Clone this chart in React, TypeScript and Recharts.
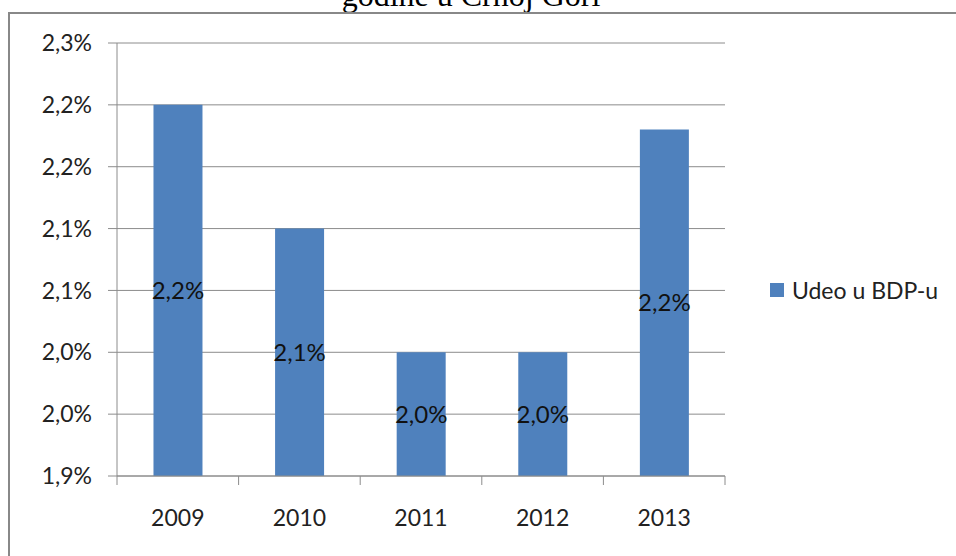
import React from "react";
import {
  BarChart,
  Bar,
  XAxis,
  YAxis,
  CartesianGrid,
  Legend,
  LabelList,
} from "recharts";

// 年ごとのGDP比（%）
const years = ["2009", "2010", "2011", "2012", "2013"];
const shareValues = [2.2, 2.1, 2.0, 2.0, 2.18];
const yTicks = [1.9, 1.95, 2.0, 2.05, 2.1, 2.15, 2.2, 2.25];
const yTickLabels = ["1,9%", "2,0%", "2,0%", "2,1%", "2,1%", "2,2%", "2,2%", "2,3%"];
const seriesName = "Udeo u BDP-u";
const titleText = "godine u Crnoj Gori";

const data = years.map((year, i) => ({ year, value: shareValues[i] }));

const FONT = "Lato, 'Open Sans', sans-serif";
const GRID = "#8c8c8c";
const BAR = "#4f81bd";
const X_TICK_SIZE = 9;
const X_TICK_MARGIN = 25;
const LEGEND_W = 200;

// カテゴリの境界に目盛り線を引くカスタムtick
const XTick = (props: any) => {
  const { x, y, payload, index, visibleTicksCount } = props;
  const half = payload?.offset ?? 0;
  const top = y - X_TICK_MARGIN - X_TICK_SIZE;
  const bottom = y - X_TICK_MARGIN;
  return (
    <g>
      <line x1={x - half} x2={x - half} y1={top} y2={bottom} stroke={GRID} />
      {index === visibleTicksCount - 1 && (
        <line x1={x + half} x2={x + half} y1={top} y2={bottom} stroke={GRID} />
      )}
      <text
        x={x}
        y={y}
        dy="0.71em"
        textAnchor="middle"
        fill="#222"
        fontSize={23}
        fontFamily={FONT}
      >
        {payload.value}
      </text>
    </g>
  );
};

const LegendContent = () => (
  <div style={{ display: "flex", alignItems: "center", fontFamily: FONT, fontSize: 23, color: "#222" }}>
    <span style={{ width: 14, height: 14, background: BAR, marginRight: 8, display: "inline-block" }} />
    {seriesName}
  </div>
);

export default function App() {
  return (
    <div
      style={{
        position: "fixed",
        left: 0,
        top: 0,
        width: 956,
        height: 556,
        overflow: "hidden",
        background: "#fff",
      }}
    >
      {/* 上で切れているタイトル */}
      <div
        style={{
          position: "absolute",
          left: 0,
          top: -21,
          width: 942,
          textAlign: "center",
          fontFamily: "'Liberation Serif', 'Times New Roman', serif",
          fontSize: 32,
          lineHeight: "32px",
          color: "#000",
        }}
      >
        {titleText}
      </div>

      {/* グラフ枠 */}
      <div
        style={{
          position: "absolute",
          left: 8,
          top: 12,
          width: 1000,
          height: 600,
          border: "2px solid #888",
          background: "#fff",
        }}
      />

      <div style={{ position: "absolute", left: 0, top: 0 }}>
        <BarChart
          width={956}
          height={556}
          data={data}
          margin={{ top: 43, right: 231 - LEGEND_W, left: 0, bottom: 0 }}
          barCategoryGap="30%"
        >
          <CartesianGrid vertical={false} stroke={GRID} strokeWidth={1} />
          <XAxis
            dataKey="year"
            height={80}
            stroke={GRID}
            tickLine={false}
            tickSize={X_TICK_SIZE}
            tickMargin={X_TICK_MARGIN}
            tick={<XTick />}
            interval={0}
          />
          <YAxis
            width={117}
            domain={[1.9, 2.25]}
            ticks={yTicks}
            stroke={GRID}
            tickSize={9}
            tickMargin={16}
            tick={{ fill: "#222", fontSize: 23, fontFamily: FONT }}
            tickFormatter={(v: number) => yTickLabels[yTicks.indexOf(v)] ?? ""}
            allowDataOverflow
          />
          <Legend
            layout="horizontal"
            verticalAlign="middle"
            align="right"
            content={<LegendContent />}
            wrapperStyle={{ left: 770, top: 276, width: LEGEND_W }}
          />
          <Bar dataKey="value" name={seriesName} fill={BAR} isAnimationActive={false}>
            <LabelList
              dataKey="value"
              position="center"
              fill="#111"
              fontSize={24}
              fontFamily={FONT}
              formatter={(v: any) => `${Number(v).toFixed(1).replace(".", ",")}%`}
            />
          </Bar>
        </BarChart>
      </div>
    </div>
  );
}
